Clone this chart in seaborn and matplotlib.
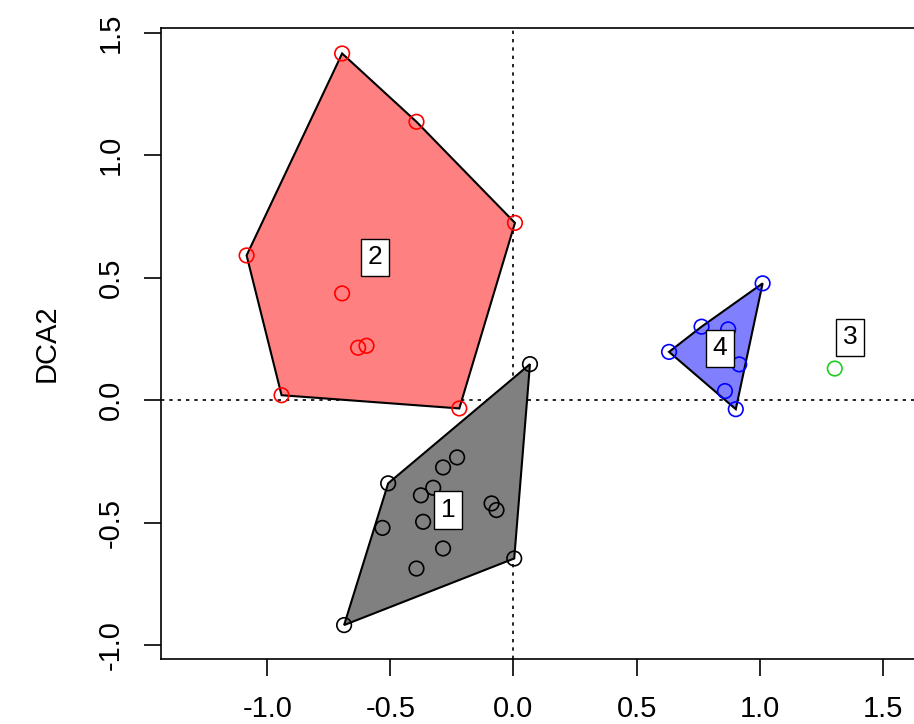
import numpy as np
import pandas as pd
import seaborn as sns
import matplotlib
matplotlib.use("Agg")
import matplotlib.pyplot as plt
from matplotlib.patches import Polygon

# site scores on the first two DCA axes, by group
g1_x = [0.067, -0.509, -0.229, -0.286, -0.326, -0.376, -0.089, -0.069, -0.532, -0.367, -0.286, -0.394, 0.003, -0.688]
g1_y = [0.147, -0.340, -0.234, -0.275, -0.358, -0.389, -0.422, -0.449, -0.522, -0.497, -0.606, -0.688, -0.647, -0.919]
g2_x = [-0.696, -0.394, 0.006, -1.084, -0.696, -0.631, -0.597, -0.942, -0.220]
g2_y = [1.416, 1.137, 0.724, 0.591, 0.436, 0.214, 0.222, 0.020, -0.034]
g3_x = [1.305]
g3_y = [0.129]
g4_x = [1.012, 0.764, 0.632, 0.872, 0.917, 0.859, 0.903]
g4_y = [0.477, 0.300, 0.197, 0.289, 0.146, 0.037, -0.037]

groups = ["1", "2", "3", "4"]
point_colors = {"1": "black", "2": "red", "3": "#22CC22", "4": "blue"}
fill_colors = {"1": "#808080", "2": "#FF8080", "3": "#80FF80", "4": "#8080FF"}

# label positions for the group names
label_x = [-0.266, -0.563, 1.367, 0.838]
label_y = [-0.449, 0.584, 0.257, 0.212]

tick_vals = [-1.0, -0.5, 0.0, 0.5, 1.0, 1.5]
tick_labels = ["-1.0", "-0.5", "0.0", "0.5", "1.0", "1.5"]

df = pd.DataFrame({
    "DCA1": g1_x + g2_x + g3_x + g4_x,
    "DCA2": g1_y + g2_y + g3_y + g4_y,
    "group": ["1"] * len(g1_x) + ["2"] * len(g2_x) + ["3"] * len(g3_x) + ["4"] * len(g4_x),
})


def convex_hull(pts):
    pts = sorted(set(pts))
    if len(pts) < 3:
        return pts
    def cross(o, a, b):
        return (a[0] - o[0]) * (b[1] - o[1]) - (a[1] - o[1]) * (b[0] - o[0])
    lower, upper = [], []
    for p in pts:
        while len(lower) >= 2 and cross(lower[-2], lower[-1], p) <= 0:
            lower.pop()
        lower.append(p)
    for p in reversed(pts):
        while len(upper) >= 2 and cross(upper[-2], upper[-1], p) <= 0:
            upper.pop()
        upper.append(p)
    return lower[:-1] + upper[:-1]


sns.set_theme(style="ticks")
plt.rcParams["font.family"] = ["Liberation Sans", "DejaVu Sans"]
plt.rcParams["text.color"] = "black"
plt.rcParams["axes.labelcolor"] = "black"
plt.rcParams["xtick.color"] = "black"
plt.rcParams["ytick.color"] = "black"

fig = plt.figure(figsize=(9.14, 7.24), dpi=100)
ax = fig.add_axes([0.1758, 0.0903, 0.8439, 0.871])

# hulls
for g in groups:
    sub = df[df["group"] == g]
    hull = convex_hull(list(zip(sub["DCA1"], sub["DCA2"])))
    if len(hull) >= 3:
        ax.add_patch(Polygon(hull, closed=True, facecolor=fill_colors[g],
                             edgecolor="black", linewidth=1.5, zorder=1))

ax.axhline(0, color="black", linestyle=(0, (2, 3)), linewidth=1.2, zorder=0.5)
ax.axvline(0, color="black", linestyle=(0, (2, 3)), linewidth=1.2, zorder=0.5)

sns.scatterplot(data=df, x="DCA1", y="DCA2", hue="group", palette=point_colors,
                facecolors="none", s=110, linewidth=1.2, legend=False, ax=ax, zorder=2)
# open circles: set edge colours from hue
coll = ax.collections[-1]
coll.set_edgecolors([point_colors[g] for g in df["group"]])
coll.set_facecolors("none")

for g, lx, ly in zip(groups, label_x, label_y):
    ax.text(lx, ly, g, fontsize=19, ha="center", va="center", zorder=3,
            bbox=dict(boxstyle="square,pad=0.25", facecolor="white", edgecolor="black", linewidth=1))

ax.set_xlim(-1.433, 1.70)
ax.set_ylim(-1.056, 1.52)
ax.set_xticks(tick_vals)
ax.set_yticks(tick_vals)
ax.set_xticklabels(tick_labels)
ax.set_yticklabels(tick_labels, rotation=90, va="center")
ax.tick_params(axis="both", direction="out", length=12, width=1.2, labelsize=21, pad=14)
ax.set_xlabel("")
ax.set_ylabel("DCA2", fontsize=21, labelpad=26)
for s in ax.spines.values():
    s.set_linewidth(1.2)
    s.set_color("black")

fig.savefig("out.png", dpi=100)
